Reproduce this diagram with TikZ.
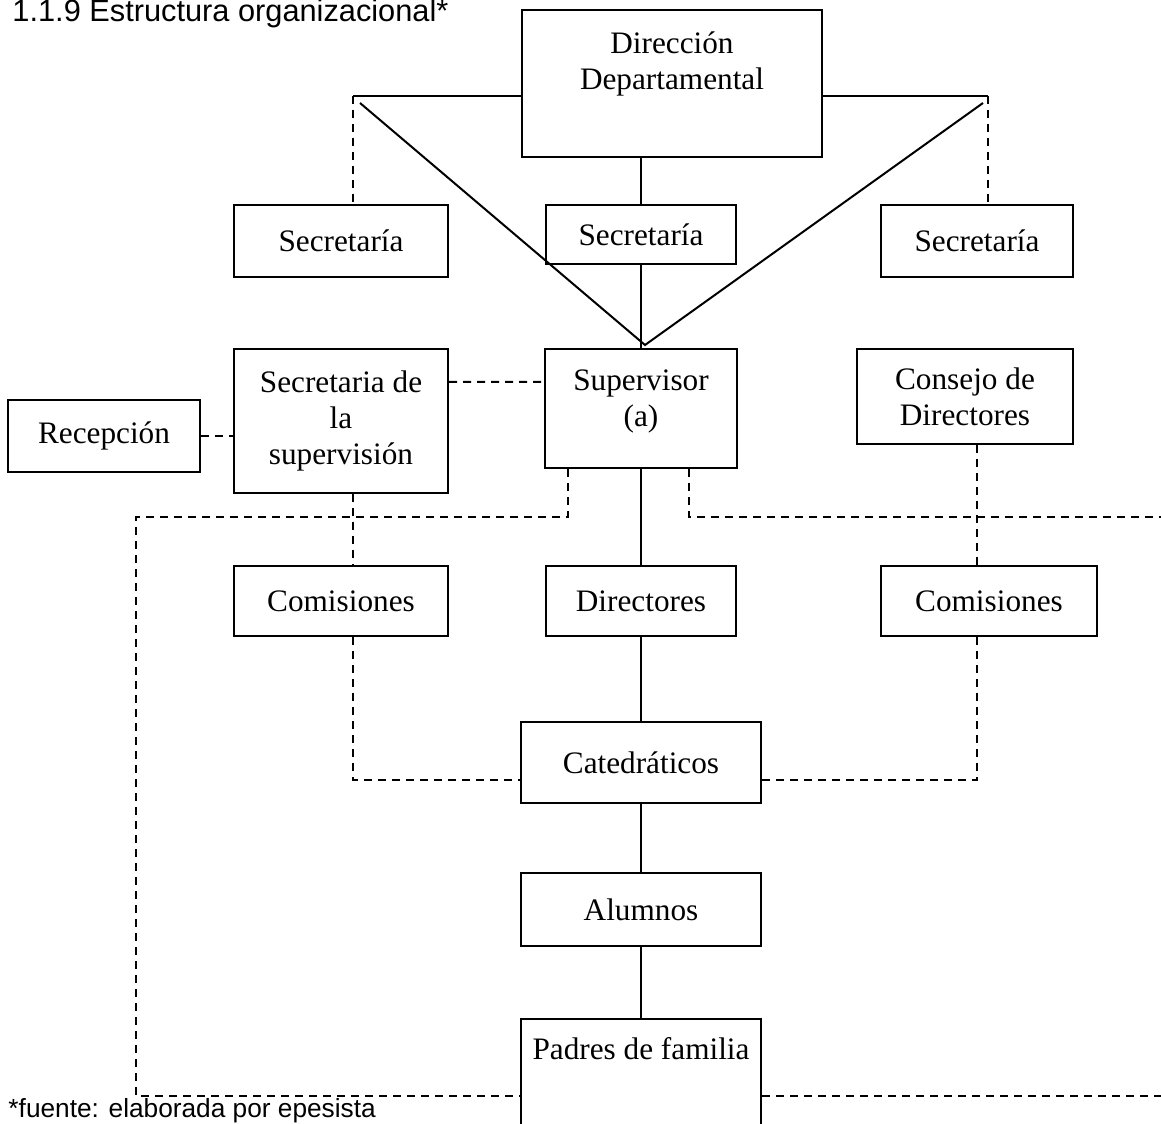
\documentclass[tikz,border=0pt]{standalone}
\usepackage{fontspec}
\setmainfont{Liberation Serif}
\newfontfamily\arialfont{Liberation Sans}
\usetikzlibrary{calc}

\tikzset{
	box/.style={draw, rectangle, line width=0.8pt, align=center, inner sep=0pt,
		font=\fontsize{12.5pt}{14.4pt}\selectfont},
	link/.style={line width=0.8pt},
	dotlink/.style={line width=0.8pt, dash pattern=on 3.2pt off 2.4pt},
	plain/.style={anchor=base west, inner sep=0pt,
		font=\arialfont\fontsize{12.3pt}{14pt}\selectfont}
}

\begin{document}
\begin{tikzpicture}[x=0.4pt, y=-0.4pt]
	\useasboundingbox (0,0) rectangle (1161,1124);

	\node[plain] (titulo) at (12,22) {1.1.9 Estructura organizacional*};
	\node[plain, font=\arialfont\fontsize{10.5pt}{12pt}\selectfont] (fuente) at (8,1117)
		{*fuente: elaborada por epesista};

	% top level
	\node[box, minimum width=120pt, minimum height=58.8pt] (direccion) at (672,83.5)
		{Dirección\\Departamental\\[4pt]\mbox{}};
	\node[box, minimum width=85.6pt, minimum height=28.8pt] (secleft)   at (341,241)
		{Secretaría};
	\node[box, minimum width=76pt, minimum height=23.6pt]   (seccenter) at (641,234.5)
		{Secretaría};
	\node[box, minimum width=76.8pt, minimum height=28.8pt] (secright)  at (977,241)
		{Secretaría};

	% supervision level
	\node[box, minimum width=85.6pt, minimum height=57.6pt] (secsup)     at (341,421)
		{Secretaria de\\la\\supervisión};
	\node[box, minimum width=76.8pt, minimum height=28.8pt] (recepcion)  at (104,436)
		{Recepción};
	\node[box, minimum width=76.8pt, minimum height=47.6pt] (supervisor) at (641,408.5)
		{Supervisor\\(a)\\[-6pt]\mbox{}};
	\node[box, minimum width=86.4pt, minimum height=38pt]   (consejo)    at (965,396.5)
		{Consejo de\\Directores};

	% lower levels
	\node[box, minimum width=85.6pt, minimum height=28pt] (comleft)      at (341,601)
		{Comisiones};
	\node[box, minimum width=76pt, minimum height=28pt]   (directores)   at (641,601)
		{Directores};
	\node[box, minimum width=86.4pt, minimum height=28pt] (comright)     at (989,601)
		{Comisiones};
	\node[box, minimum width=96pt, minimum height=32.4pt] (catedraticos) at (641,762.5)
		{Catedráticos};
	\node[box, minimum width=96pt, minimum height=29.2pt] (alumnos)      at (641,909.5)
		{Alumnos};
	\node[box, minimum width=96pt, inner ysep=4.2pt, text height=11.8pt, text depth=30pt,
		anchor=north] (padres) at (641,1018) {Padres de familia};

	\coordinate (tl) at (353,96);
	\coordinate (tr) at (988,96);
	\coordinate (dl) at (360,103);
	\coordinate (dr) at (983,103);
	\coordinate (vtip) at (645,345);
	\coordinate (ll) at (136,517);
	\coordinate (lb) at (136,1096);
	\coordinate (rt) at (1161,517);
	\coordinate (rb) at (1161,1096);
	\coordinate (cl) at (353,780);
	\coordinate (cr) at (977,780);

	% solid lines
	\draw[link] (tl) -- (direccion.west |- tl);
	\draw[link] (tr) -- (direccion.east |- tr);
	\draw[link] (dl) -- (vtip) -- (dr);
	\draw[link] (seccenter.north |- direccion.south) -- (seccenter.north);
	\draw[link] (seccenter.south) -- (supervisor.north);
	\draw[link] (supervisor) -- (directores);
	\draw[link] (directores) -- (catedraticos);
	\draw[link] (catedraticos) -- (alumnos);
	\draw[link] (alumnos) -- (padres);

	% dashed lines
	\draw[dotlink] (tl) -- (tl |- secleft.north);
	\draw[dotlink] (tr) -- (tr |- secright.north);
	\draw[dotlink] (recepcion.east) -- (secsup.west |- recepcion.east);
	\draw[dotlink] ([yshift=-13.6pt]secsup.north east) -- ([yshift=-13.6pt]supervisor.north west);
	\draw[dotlink] ([xshift=9.6pt]supervisor.south west) |- (ll) -- (lb) -- (lb -| padres.west);
	\draw[dotlink] ([xshift=-19.6pt]supervisor.south east) |- (rt);
	\draw[dotlink] (padres.east |- rb) -- (rb);
	\draw[dotlink] (tl |- secsup.south) -- (tl |- comleft.north);
	\draw[dotlink] (cr |- consejo.south) -- (cr |- comright.north);
	\draw[dotlink] (tl |- comleft.south) -- (cl) -- (catedraticos.west |- cl);
	\draw[dotlink] (cr |- comright.south) -- (cr) -- (catedraticos.east |- cr);
\end{tikzpicture}
\end{document}
